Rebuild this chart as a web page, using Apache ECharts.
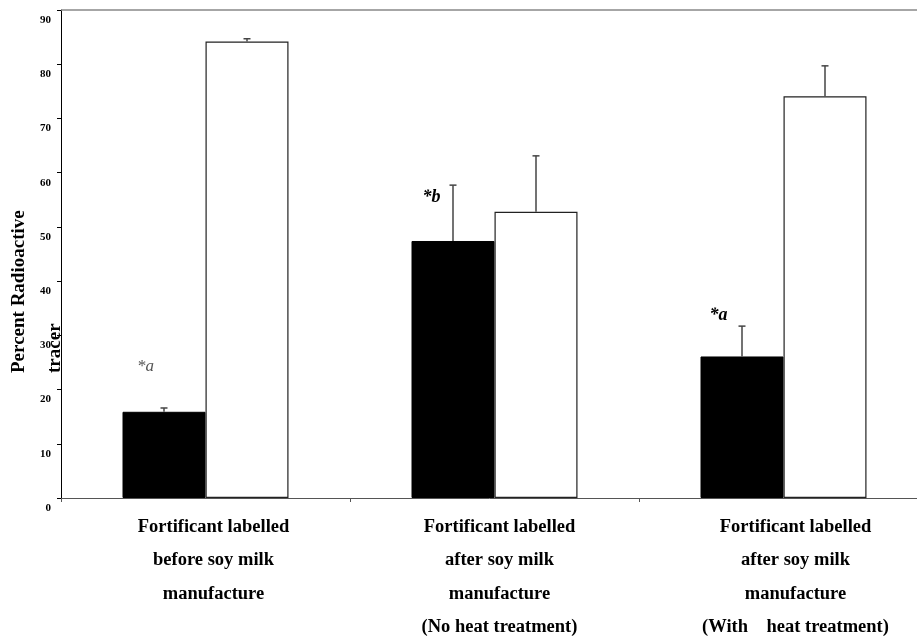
<!DOCTYPE html>
<html>
<head>
<meta charset="utf-8">
<script src="https://cdn.jsdelivr.net/npm/echarts@6/dist/echarts.min.js"></script>
<style>html,body{margin:0;padding:0;background:#fff}#c{width:917px;height:638px}</style>
</head>
<body>
<div id="c"></div>
<script>
// ---- data ----
var categories = [
  'Fortificant labelled\nbefore soy milk\nmanufacture',
  'Fortificant labelled\nafter soy milk\nmanufacture\n(No heat treatment)',
  'Fortificant labelled\nafter soy milk\nmanufacture\n(With    heat treatment)'
];
var blackValues = [15.9, 47.4, 26.1];
var blackErrors = [0.7, 10.3, 5.6];
var whiteValues = [84.2, 52.8, 74.1];
var whiteErrors = [0.5, 10.3, 5.6];
var yTicks = { min: 0, max: 90, interval: 10 };
var annotText = ['*a', '*b', '*a'];
var annotValue = [24.3, 55.5, 33.6];
var annotBold = [false, true, true];

var FONT = '"Liberation Serif", "Times New Roman", serif';
var BAR_W = 83;
var labelShift = [16, 10, 24];

var chart = echarts.init(document.getElementById('c'));

function errSeries(values, errors, dir) {
  return {
    type: 'custom',
    z: 5,
    silent: true,
    data: values.map(function (v, i) { return [i, v, v + errors[i]]; }),
    renderItem: function (params, api) {
      var lo = api.coord([api.value(0), api.value(1)]);
      var hi = api.coord([api.value(0), api.value(2)]);
      var x = lo[0] + dir * BAR_W / 2;
      var cap = 3.5;
      var st = { stroke: '#444', lineWidth: 1.5 };
      return {
        type: 'group',
        children: [
          { type: 'line', shape: { x1: x, y1: lo[1], x2: x, y2: hi[1] }, style: st },
          { type: 'line', shape: { x1: x - cap, y1: hi[1], x2: x + cap, y2: hi[1] }, style: st }
        ]
      };
    }
  };
}

var rich = {};
labelShift.forEach(function (s, i) {
  rich['c' + i] = {
    fontFamily: FONT, fontWeight: 'bold', fontSize: 18.5, color: '#000',
    lineHeight: 33.5, padding: [0, 0, 0, s], align: 'center'
  };
});

chart.setOption({
  animation: false,
  backgroundColor: '#fff',
  grid: { left: 61, right: -11, top: 10, bottom: 140, containLabel: false, outerBoundsMode: 'none' },
  xAxis: {
    type: 'category',
    data: categories,
    axisLine: { lineStyle: { color: '#555', width: 1 } },
    axisTick: { show: true, alignWithLabel: false, length: 4, lineStyle: { color: '#555' } },
    axisLabel: {
      interval: 0,
      margin: 12,
      fontFamily: FONT, fontWeight: 'bold', fontSize: 18.5, color: '#000',
      lineHeight: 33.5,
      formatter: function (v, i) {
        return v.split('\n').map(function (l) { return '{c' + i + '|' + l + '}'; }).join('\n');
      },
      rich: rich
    },
    splitLine: { show: false }
  },
  yAxis: {
    type: 'value',
    min: yTicks.min, max: yTicks.max, interval: yTicks.interval,
    axisLine: { show: true, lineStyle: { color: '#000', width: 1 } },
    axisTick: { show: true, length: 4, lineStyle: { color: '#000' } },
    axisLabel: {
      margin: 10,
      fontFamily: FONT, fontWeight: 'bold', fontSize: 11, color: '#000',
      verticalAlign: 'top',
      lineHeight: 20
    },
    splitLine: { show: false }
  },
  series: [
    {
      type: 'bar',
      data: blackValues,
      barWidth: BAR_W,
      barGap: '0%',
      itemStyle: { color: '#000', borderColor: '#000', borderWidth: 1 },
      markLine: {
        silent: true,
        symbol: 'none',
        label: { show: false },
        lineStyle: { color: '#888', width: 1.5, type: 'solid' },
        data: [{ yAxis: yTicks.max }]
      }
    },
    {
      type: 'bar',
      data: whiteValues,
      barWidth: BAR_W,
      barGap: '0%',
      itemStyle: { color: '#fff', borderColor: '#222', borderWidth: 1.2 }
    },
    errSeries(blackValues, blackErrors, -1),
    errSeries(whiteValues, whiteErrors, 1)
  ]
});

var graphics = [
  {
    type: 'text', x: 19, y: 373, rotation: Math.PI / 2,
    style: { text: 'Percent Radioactive', font: 'bold 19px ' + FONT, fill: '#000', align: 'left', verticalAlign: 'middle' }
  },
  {
    type: 'text', x: 55, y: 373, rotation: Math.PI / 2,
    style: { text: 'tracer', font: 'bold 19px ' + FONT, fill: '#000', align: 'left', verticalAlign: 'middle' }
  }
];
var annotOffset = [-60, -63, -65];
annotText.forEach(function (t, i) {
  var p = chart.convertToPixel({ gridIndex: 0 }, [i, annotValue[i]]);
  graphics.push({
    type: 'text', x: p[0] + annotOffset[i], y: p[1],
    style: {
      text: t,
      font: (annotBold[i] ? 'italic bold 18px ' : 'italic 17px ') + FONT,
      fill: annotBold[i] ? '#000' : '#555',
      align: 'center', verticalAlign: 'middle'
    }
  });
});
chart.setOption({ graphic: graphics });
</script>
</body>
</html>
